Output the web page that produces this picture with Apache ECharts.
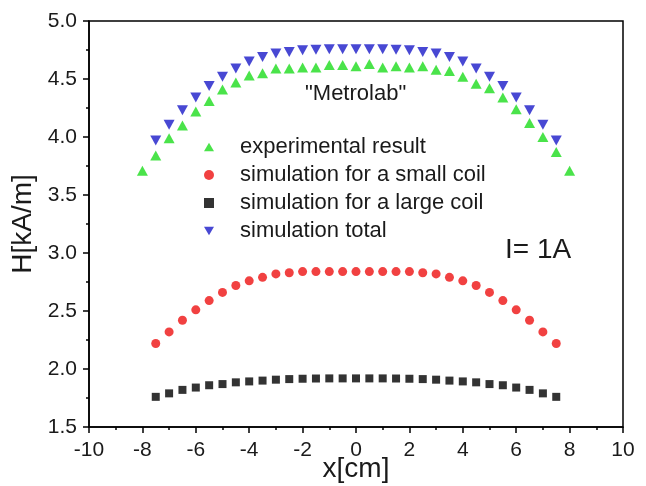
<!DOCTYPE html>
<html>
<head>
<meta charset="utf-8">
<script src="https://cdn.jsdelivr.net/npm/echarts@6/dist/echarts.min.js"></script>
<style>
html, body { margin: 0; padding: 0; background: #fff; }
#main { width: 646px; height: 486px; }
</style>
</head>
<body>
<div id="main"></div>
<script>
// x positions (cm)
var xExp = [-8, -7.5, -7, -6.5, -6, -5.5, -5, -4.5, -4, -3.5, -3, -2.5, -2, -1.5, -1, -0.5, 0,
            0.5, 1, 1.5, 2, 2.5, 3, 3.5, 4, 4.5, 5, 5.5, 6, 6.5, 7, 7.5, 8];
var xSim = [-7.5, -7, -6.5, -6, -5.5, -5, -4.5, -4, -3.5, -3, -2.5, -2, -1.5, -1, -0.5, 0,
            0.5, 1, 1.5, 2, 2.5, 3, 3.5, 4, 4.5, 5, 5.5, 6, 6.5, 7, 7.5];

// H values (kA/m)
var hExp = [3.71, 3.84, 3.99, 4.10, 4.22, 4.31, 4.41, 4.47, 4.53, 4.55, 4.59, 4.59, 4.60, 4.60, 4.62, 4.62, 4.61,
            4.63, 4.60, 4.61, 4.60, 4.61, 4.58, 4.57, 4.52, 4.46, 4.42, 4.34, 4.24, 4.12, 4.00, 3.87, 3.71];
var hSmall = [2.22, 2.32, 2.42, 2.51, 2.59, 2.66, 2.72, 2.76, 2.79, 2.82, 2.83, 2.84, 2.84, 2.84, 2.84, 2.84,
              2.84, 2.84, 2.84, 2.84, 2.83, 2.82, 2.79, 2.76, 2.72, 2.66, 2.59, 2.51, 2.42, 2.32, 2.22];
var hLarge = [1.76, 1.79, 1.82, 1.84, 1.86, 1.87, 1.885, 1.893, 1.90, 1.908, 1.913, 1.916, 1.918, 1.919, 1.919, 1.919,
              1.919, 1.919, 1.918, 1.916, 1.913, 1.908, 1.90, 1.893, 1.885, 1.87, 1.86, 1.84, 1.82, 1.79, 1.76];
var hTotal = [3.97, 4.105, 4.23, 4.34, 4.44, 4.52, 4.59, 4.65, 4.69, 4.72, 4.733, 4.748, 4.753, 4.756, 4.757, 4.757,
              4.757, 4.756, 4.753, 4.748, 4.733, 4.72, 4.69, 4.65, 4.59, 4.52, 4.44, 4.34, 4.23, 4.105, 3.97];

var seriesNames = ['experimental result', 'simulation for a small coil', 'simulation for a large coil', 'simulation total'];

function pairs(xs, ys) {
    return xs.map(function (x, i) { return [x, ys[i]]; });
}

var FONT = 'Liberation Sans, Arial, sans-serif';
var downTri = 'path://M0,0L2,0L1,1.73Z';
var upTri = 'path://M1,0L2,1.73L0,1.73Z';

var myChart = echarts.init(document.getElementById('main'));
var option = {
    backgroundColor: '#fff',
    animation: false,
    textStyle: { fontFamily: FONT },
    grid: {
        left: 89,
        right: 23,
        top: 21,
        bottom: 59,
        outerBoundsMode: 'none',
        containLabel: false,
        show: true,
        borderColor: '#000',
        borderWidth: 1.5
    },
    legend: {
        orient: 'vertical',
        left: 199,
        top: 131,
        itemGap: 6,
        itemWidth: 10,
        itemHeight: 10,
        textStyle: { fontSize: 22, color: '#1a1a1a', padding: [0, 0, 0, 21] },
        data: seriesNames
    },
    xAxis: {
        type: 'value',
        min: -10,
        max: 10,
        interval: 2,
        splitLine: { show: false },
        axisLine: { onZero: false, lineStyle: { color: '#000', width: 1.5 } },
        axisTick: { length: 6, lineStyle: { color: '#000', width: 1.5 } },
        minorTick: { show: true, splitNumber: 2, length: 3, lineStyle: { color: '#000', width: 1.5 } },
        axisLabel: { fontSize: 21, color: '#1a1a1a', margin: 13 },
        name: 'x[cm]',
        nameLocation: 'middle',
        nameGap: 28,
        nameMoveOverlap: false,
        nameTextStyle: { fontSize: 28, color: '#1a1a1a' }
    },
    yAxis: {
        type: 'value',
        min: 1.5,
        max: 5.0,
        interval: 0.5,
        splitLine: { show: false },
        axisLine: { show: true, onZero: false, lineStyle: { color: '#000', width: 1.5 } },
        axisTick: { show: true, length: 6, lineStyle: { color: '#000', width: 1.5 } },
        minorTick: { show: true, splitNumber: 2, length: 3, lineStyle: { color: '#000', width: 1.5 } },
        axisLabel: {
            fontSize: 21, color: '#1a1a1a', margin: 12,
            formatter: function (v) { return v.toFixed(1); }
        },
        name: 'H[kA/m]',
        nameLocation: 'middle',
        nameRotate: 90,
        nameGap: 52,
        nameMoveOverlap: false,
        nameTextStyle: { fontSize: 28, color: '#1a1a1a' }
    },
    graphic: [
        {
            type: 'text',
            left: 305,
            top: 83,
            style: { text: '"Metrolab"', fontSize: 22, fill: '#1a1a1a', fontFamily: FONT }
        },
        {
            type: 'text',
            left: 505,
            top: 236,
            style: { text: 'I= 1A', fontSize: 28, fill: '#1a1a1a', fontFamily: FONT }
        }
    ],
    series: [
        {
            name: seriesNames[0],
            type: 'scatter',
            symbol: upTri,
            symbolSize: [11, 10],
            itemStyle: { color: '#1ddc1d' },
            data: pairs(xExp, hExp)
        },
        {
            name: seriesNames[1],
            type: 'scatter',
            symbol: 'circle',
            symbolSize: 9,
            itemStyle: { color: '#ee1111' },
            data: pairs(xSim, hSmall)
        },
        {
            name: seriesNames[2],
            type: 'scatter',
            symbol: 'rect',
            symbolSize: 8,
            itemStyle: { color: '#000' },
            data: pairs(xSim, hLarge)
        },
        {
            name: seriesNames[3],
            type: 'scatter',
            symbol: downTri,
            symbolSize: [11, 10],
            itemStyle: { color: '#1a1ac8' },
            data: pairs(xSim, hTotal)
        }
    ]
};
myChart.setOption(option);
</script>
</body>
</html>
